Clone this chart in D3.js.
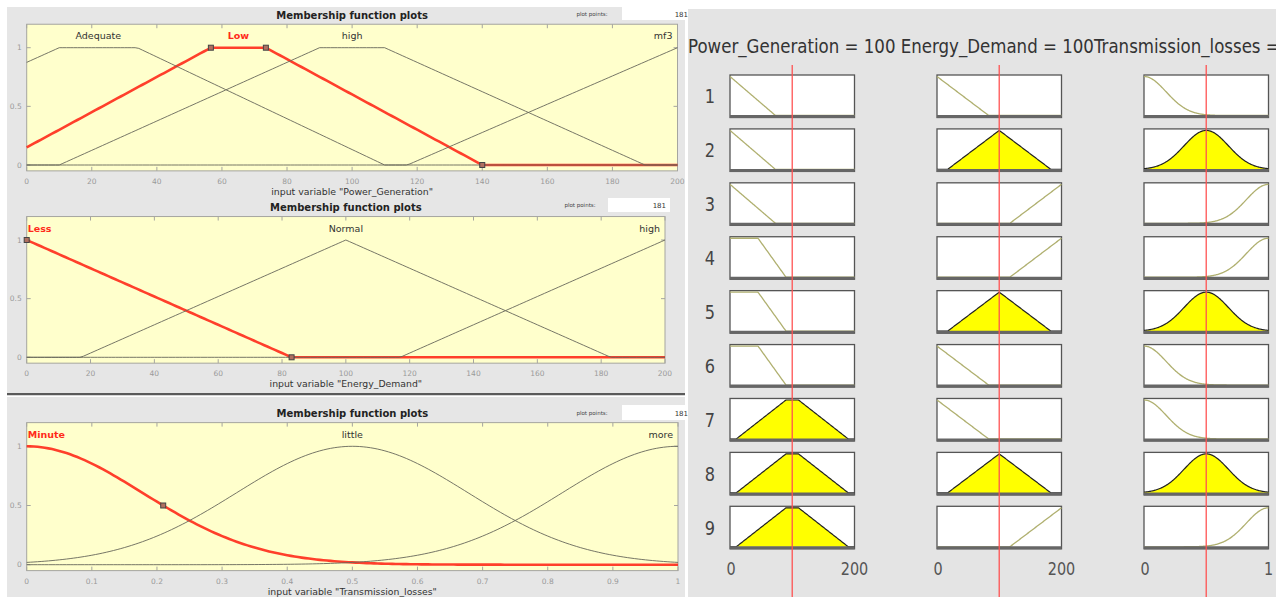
<!DOCTYPE html>
<html><head><meta charset="utf-8">
<script src="https://cdn.jsdelivr.net/npm/d3@7"></script>
<style>body{margin:0;background:#fff;} svg{display:block;font-family:"DejaVu Sans",sans-serif;}</style>
</head><body><svg id="c" width="1276" height="597"></svg>
<script>
// ---------------- DATA ----------------
const powerTerms  = ["Adequate", "Low", "high", "mf3"];
const powerTypes  = ["trapmf", "trapmf", "trapmf", "trimf"];
const powerParams = [[-70, 10, 34, 110], [-10, 56.6, 73.5, 140], [10, 90, 110, 190], [117, 200, 283]];
const powerTicks  = [0, 20, 40, 60, 80, 100, 120, 140, 160, 180, 200];

const energyTerms  = ["Less", "Normal", "high"];
const energyTypes  = ["trimf", "trimf", "trimf"];
const energyParams = [[-83, 0, 83], [17, 100, 183], [117, 200, 283]];
const energyTicks  = [0, 20, 40, 60, 80, 100, 120, 140, 160, 180, 200];

const lossTerms  = ["Minute", "little", "more"];
const lossTypes  = ["gaussmf", "gaussmf", "gaussmf"];
const lossParams = [[0.178, 0], [0.178, 0.5], [0.178, 1]];
const lossTicks  = [0, 0.1, 0.2, 0.3, 0.4, 0.5, 0.6, 0.7, 0.8, 0.9, 1];

const yTicks = [0, 0.5, 1];
const plotPoints = 181;

// rule viewer
const ruleNumbers = [1, 2, 3, 4, 5, 6, 7, 8, 9];
const inputNames  = ["Power_Generation", "Energy_Demand", "Transmission_losses"];
const inputValues = [100, 100, 0.5];
const inputRanges = [[0, 200], [0, 200], [0, 1]];
const viewPowerTypes  = ["trimf", "trapmf", "trapmf"];
const viewPowerParams = [[-73, 0, 73], [-45, -1, 45, 90], [10, 90, 110, 190]];
const rulePowerMF  = [0, 0, 0, 1, 1, 1, 2, 2, 2];
const ruleEnergyMF = [0, 1, 2, 2, 1, 0, 0, 1, 2];
const ruleLossMF   = [0, 1, 2, 2, 1, 0, 0, 1, 2];

// ---------------- MF functions ----------------
function mf(type, p, x) {
  if (type === "trimf") {
    const [a, b, c] = p;
    const l = b === a ? (x >= b ? 1 : 0) : (x - a) / (b - a);
    const r = c === b ? (x <= b ? 1 : 0) : (c - x) / (c - b);
    return Math.max(Math.min(l, r), 0);
  }
  if (type === "trapmf") {
    const [a, b, c, d] = p;
    const l = b === a ? 1 : (x - a) / (b - a);
    const r = d === c ? 1 : (d - x) / (d - c);
    return Math.max(Math.min(l, 1, r), 0);
  }
  const [s, c] = p;
  return Math.exp(-((x - c) * (x - c)) / (2 * s * s));
}

const svg = d3.select("#c");
svg.append("rect").attr("width", 1276).attr("height", 597).attr("fill", "#fff");

// ---------------- LEFT: MF editor panels ----------------
const panels = [
  {terms: powerTerms, types: powerTypes, params: powerParams, ticks: powerTicks, dom: [0, 200], sel: 1,
   name: "Power_Generation", gy0: 7, gy1: 197, x0: 26.7, x1: 677.5, yz: 165, yo: 47.7,
   ppText: 592, ppBox: [622, 7, 70, 13], axFs: 9.4},
  {terms: energyTerms, types: energyTypes, params: energyParams, ticks: energyTicks, dom: [0, 200], sel: 0,
   name: "Energy_Demand", gy0: 197, gy1: 393, x0: 26.7, x1: 665, yz: 357.3, yo: 240,
   ppText: 580, ppBox: [608, 198, 62, 14], axFs: 9.3},
  {terms: lossTerms, types: lossTypes, params: lossParams, ticks: lossTicks, dom: [0, 1], sel: 0,
   name: "Transmission_losses", gy0: 397, gy1: 597, x0: 26.7, x1: 678, yz: 564.7, yo: 446.3,
   ppText: 592, ppBox: [622, 405, 70, 15], axFs: 9.3}
];

panels.forEach((P, pi) => {
  const g = svg.append("g");
  g.append("rect").attr("x", 7).attr("y", P.gy0).attr("width", 678).attr("height", P.gy1 - P.gy0).attr("fill", "#e6e6e6");
  const x = d3.scaleLinear().domain(P.dom).range([P.x0, P.x1]);
  const y = d3.scaleLinear().domain([0, 1]).range([P.yz, P.yo]);
  const top = y(1.2), bot = y(-0.05);
  // plot points control
  g.append("text").attr("x", P.ppText).attr("y", P.ppBox[1] + P.ppBox[3] / 2 + 2).attr("text-anchor", "middle")
    .attr("font-size", 5.5).attr("fill", "#444").text("plot points:");
  g.append("rect").attr("x", P.ppBox[0]).attr("y", P.ppBox[1]).attr("width", P.ppBox[2]).attr("height", P.ppBox[3]).attr("fill", "#fff");
  g.append("text").attr("x", P.ppBox[0] + P.ppBox[2] - 4).attr("y", P.ppBox[1] + P.ppBox[3] / 2 + 3).attr("text-anchor", "end")
    .attr("font-size", 7).attr("fill", "#333").text(plotPoints);
  // title
  g.append("text").attr("x", (P.x0 + P.x1) / 2).attr("y", top - 5.5).attr("text-anchor", "middle")
    .attr("font-size", 10).attr("font-weight", "bold").attr("fill", "#222").text("Membership function plots");
  // plot area
  g.append("rect").attr("x", P.x0).attr("y", top).attr("width", P.x1 - P.x0).attr("height", bot - top)
    .attr("fill", "#ffffcc").attr("stroke", "#a5a5a0").attr("stroke-width", 1);
  // ticks inside
  P.ticks.forEach(t => {
    g.append("line").attr("x1", x(t)).attr("x2", x(t)).attr("y1", top).attr("y2", top + 4).attr("stroke", "#a5a5a0");
    g.append("line").attr("x1", x(t)).attr("x2", x(t)).attr("y1", bot).attr("y2", bot - 4).attr("stroke", "#a5a5a0");
    g.append("text").attr("x", x(t)).attr("y", bot + 13).attr("text-anchor", "middle")
      .attr("font-size", 7.5).attr("fill", "#9a9a9a").text(t);
  });
  yTicks.forEach(t => {
    g.append("line").attr("x1", P.x0).attr("x2", P.x0 + 4).attr("y1", y(t)).attr("y2", y(t)).attr("stroke", "#a5a5a0");
    g.append("line").attr("x1", P.x1).attr("x2", P.x1 - 4).attr("y1", y(t)).attr("y2", y(t)).attr("stroke", "#a5a5a0");
    g.append("text").attr("x", P.x0 - 5).attr("y", y(t) + 2.5).attr("text-anchor", "end")
      .attr("font-size", 7.5).attr("fill", "#9a9a9a").text(t);
  });
  // axis label
  g.append("text").attr("x", (P.x0 + P.x1) / 2).attr("y", bot + 24).attr("text-anchor", "middle")
    .attr("font-size", P.axFs).attr("fill", "#333").text('input variable "' + P.name + '"');
  // curves
  const xs = d3.range(plotPoints).map(i => P.dom[0] + (P.dom[1] - P.dom[0]) * i / (plotPoints - 1));
  const line = d3.line().x(d => x(d[0])).y(d => y(d[1]));
  const order = P.terms.map((_, i) => i).filter(i => i !== P.sel);
  g.append("path").attr("d", line(xs.map(v => [v, mf(P.types[P.sel], P.params[P.sel], v)])))
    .attr("fill", "none").attr("stroke", "#ff2a1a").attr("stroke-width", 2.6).attr("stroke-opacity", 0.9);
  order.forEach(i => {
    g.append("path").attr("d", line(xs.map(v => [v, mf(P.types[i], P.params[i], v)])))
      .attr("fill", "none").attr("stroke", "#66665a").attr("stroke-width", 0.9);
  });
  // markers
  const sp = P.params[P.sel], st = P.types[P.sel];
  let pts = [];
  if (st === "trapmf") pts = [[sp[0], 0], [sp[1], 1], [sp[2], 1], [sp[3], 0]];
  else if (st === "trimf") pts = [[sp[0], 0], [sp[1], 1], [sp[2], 0]];
  else pts = [[sp[1] + sp[0] * Math.sqrt(2 * Math.log(2)), 0.5]];
  pts.filter(p => p[0] >= P.dom[0] && p[0] <= P.dom[1]).forEach(p => {
    g.append("rect").attr("x", x(p[0]) - 2.5).attr("y", y(p[1]) - 2.5).attr("width", 5).attr("height", 5)
      .attr("fill", "#b07060").attr("stroke", "#444").attr("stroke-width", 1);
  });
  // labels
  P.terms.forEach((t, i) => {
    const p = P.params[i], ty = P.types[i];
    const c = ty === "trapmf" ? (p[1] + p[2]) / 2 : p[1];
    let anchor = "middle", lx = x(c);
    if (c <= P.dom[0]) { anchor = "start"; lx = P.x0 + 1; }
    else if (c >= P.dom[1]) { anchor = "end"; lx = P.x1 - 5; }
    g.append("text").attr("x", lx).attr("y", y(1.1) + 3.5).attr("text-anchor", anchor)
      .attr("font-size", 9.5).attr("font-weight", i === P.sel ? "bold" : "normal")
      .attr("fill", i === P.sel ? "#ff2a1a" : "#333").text(t);
  });
});
// separator between panel 2 and 3
svg.append("rect").attr("x", 7).attr("y", 393).attr("width", 678).attr("height", 2.5).attr("fill", "#5a5a5a");
svg.append("rect").attr("x", 7).attr("y", 395.5).attr("width", 678).attr("height", 1.5).attr("fill", "#fff");

// ---------------- RIGHT: rule viewer ----------------
const R = svg.append("g");
R.append("rect").attr("x", 688).attr("y", 9).attr("width", 588).attr("height", 588).attr("fill", "#e4e4e4");
R.append("clipPath").attr("id", "hdrclip").append("rect").attr("x", 688).attr("y", 20).attr("width", 588).attr("height", 50);
R.append("g").attr("clip-path", "url(#hdrclip)")
  .append("text").attr("transform", "translate(688,53) scale(0.875,1)").attr("font-size", 19).attr("fill", "#333")
  .text(inputNames[0] + " = " + inputValues[0] + " " + inputNames[1] + " = " + inputValues[1] + inputNames[2] + " = " + inputValues[2]);

const colX = d3.scaleLinear().domain([0, 2]).range([730, 1144]);
const rowY = d3.scaleLinear().domain([0, 8]).range([75, 506.3]);
const boxW = 124.5, boxH = 42.5;
const colMFs = [
  {types: viewPowerTypes, params: viewPowerParams, sel: rulePowerMF},
  {types: energyTypes, params: energyParams, sel: ruleEnergyMF},
  {types: lossTypes, params: lossParams, sel: ruleLossMF}
];

ruleNumbers.forEach((r, ri) => {
  const ty = rowY(ri);
  R.append("text").attr("transform", `translate(710,${ty + boxH / 2 + 7}) scale(0.85,1)`).attr("text-anchor", "middle")
    .attr("font-size", 19).attr("fill", "#444").text(r);
  colMFs.forEach((C, ci) => {
    const bx = colX(ci);
    const xs = d3.scaleLinear().domain(inputRanges[ci]).range([bx, bx + boxW]);
    const ys = d3.scaleLinear().domain([0, 1]).range([ty + boxH - 2, ty + 1.5]);
    R.append("rect").attr("x", bx).attr("y", ty).attr("width", boxW).attr("height", boxH)
      .attr("fill", "#fff").attr("stroke", "#555").attr("stroke-width", 1.3);
    const k = C.sel[ri], t = C.types[k], p = C.params[k];
    const dom = inputRanges[ci];
    const pts = d3.range(plotPoints).map(i => dom[0] + (dom[1] - dom[0]) * i / (plotPoints - 1));
    const deg = mf(t, p, inputValues[ci]);
    const active = deg > 0.1;
    if (active) {
      const area = d3.area().x(v => xs(v)).y0(ys(0)).y1(v => ys(Math.min(deg, mf(t, p, v))));
      R.append("path").attr("d", area(pts)).attr("fill", "#ffff00");
    }
    const ln = d3.line().x(v => xs(v)).y(v => ys(mf(t, p, v)));
    R.append("path").attr("d", ln(pts)).attr("fill", "none")
      .attr("stroke", active ? "#222" : "#b0b070").attr("stroke-width", active ? 1.2 : 1.3);
    R.append("line").attr("x1", bx).attr("x2", bx + boxW).attr("y1", ty + boxH - 1).attr("y2", ty + boxH - 1)
      .attr("stroke", "#666").attr("stroke-width", 3);
  });
});
// bottom range labels
inputRanges.forEach((d, ci) => {
  const bx = colX(ci);
  R.append("text").attr("transform", `translate(${bx + 1},575) scale(0.8,1)`).attr("text-anchor", "middle").attr("font-size", 18).attr("fill", "#555").text(d[0]);
  R.append("text").attr("transform", `translate(${bx + boxW},575) scale(0.8,1)`).attr("text-anchor", "middle").attr("font-size", 18).attr("fill", "#555").text(d[1]);
});
// input lines
inputValues.forEach((v, ci) => {
  const bx = colX(ci);
  const xs = d3.scaleLinear().domain(inputRanges[ci]).range([bx, bx + boxW]);
  R.append("line").attr("x1", xs(v)).attr("x2", xs(v)).attr("y1", 65).attr("y2", 597)
    .attr("stroke", "#ff5050").attr("stroke-width", 1.5).attr("stroke-opacity", 0.85);
});
</script></body></html>
